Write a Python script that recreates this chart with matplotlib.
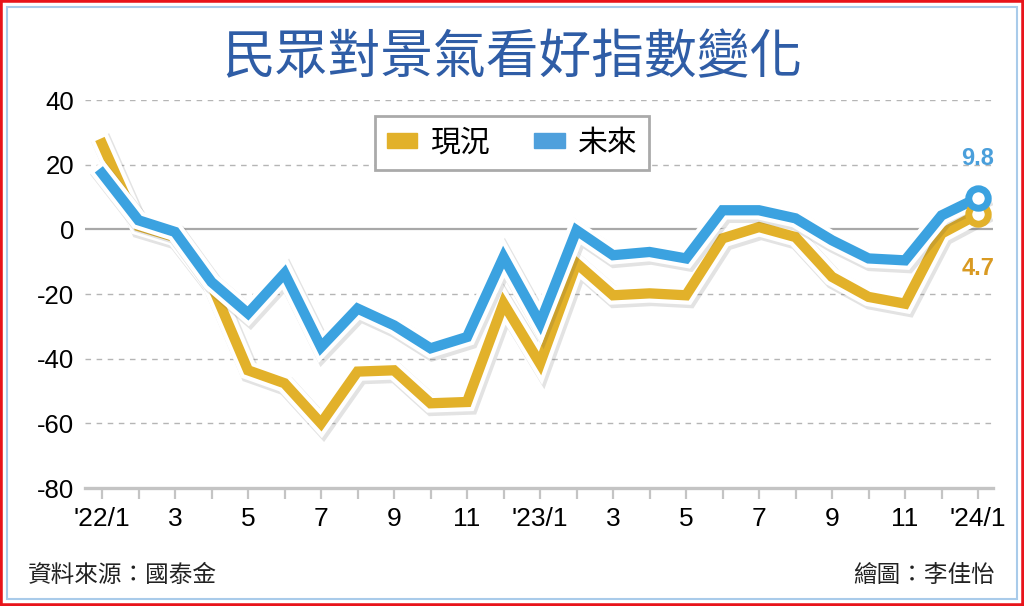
import matplotlib
matplotlib.use("Agg")
import matplotlib.pyplot as plt
import matplotlib.patheffects as pe
from matplotlib.patches import Rectangle, Patch

# 2022/1 .. 2024/1, monthly
months = list(range(25))
current = [26.5, 1.0, -2.4, -17.0, -43.6, -47.6, -60.0, -44.0, -43.6, -53.8, -53.4, -22.9,
           -41.5, -10.5, -20.4, -19.8, -20.4, -2.8, 0.7, -2.4, -14.7, -20.9, -23.0, -1.3, 4.7]
future = [17.3, 2.8, -0.8, -16.3, -26.0, -13.6, -36.4, -24.5, -29.7, -36.8, -33.3, -8.6,
          -29.0, -0.3, -8.0, -7.0, -9.0, 5.9, 5.9, 3.4, -3.4, -9.0, -9.6, 4.3, 9.8]
tick_pos = list(range(0, 25, 2))
tick_labels = ["'22/1", "3", "5", "7", "9", "11", "'23/1", "3", "5", "7", "9", "11", "'24/1"]
y_ticks = [40, 20, 0, -20, -40, -60, -80]

title = "民眾對景氣看好指數變化"
series_names = ["現況", "未來"]
source = "資料來源：國泰金"
credit = "繪圖：李佳怡"

c_yellow = "#E2B12A"
c_blue = "#3BA2E0"
cjk = ["Noto Sans CJK TC", "DejaVu Sans"]
num_font = ["Liberation Sans", "DejaVu Sans"]
narrow_font = ["Liberation Sans Narrow", "Liberation Sans", "DejaVu Sans"]

fig = plt.figure(figsize=(10.24, 6.06), dpi=100)
ax = fig.add_axes([85 / 1024, 1 - 488 / 606, (993 - 85) / 1024, (488 - 100) / 606])

ax.set_xlim(-0.466, 24.41)
ax.set_ylim(-80, 40)

for y in y_ticks:
    if y == 0:
        ax.axhline(y, color="#A8A8A8", lw=1.6, zorder=1)
    elif y != -80:
        ax.axhline(y, color="#B5B5B5", lw=1.0, dashes=(4, 4), zorder=1)

for sp in ["top", "right", "left"]:
    ax.spines[sp].set_visible(False)
ax.spines["bottom"].set_color("#C4C4C4")
ax.spines["bottom"].set_linewidth(2.4)

ax.set_yticks(y_ticks)
ax.set_yticklabels([str(v) for v in y_ticks], family=num_font, fontsize=18.5)
ax.tick_params(axis="y", length=0, pad=8)
ax.set_xticks(months, minor=True)
ax.set_xticks(tick_pos)
ax.set_xticklabels(tick_labels, family=narrow_font, fontsize=19)
ax.tick_params(axis="x", which="both", length=8, width=1.6, color="#C4C4C4", pad=6)

def effects(lw):
    return [pe.SimpleLineShadow(offset=(1.5, -2), shadow_color="#444444", alpha=0.15,
                                linewidth=lw + 7),
            pe.Stroke(linewidth=lw + 6, foreground="white"),
            pe.Normal()]

lw = 7.4
ax.plot(months, current, color=c_yellow, lw=lw, solid_joinstyle="miter",
        path_effects=effects(lw), zorder=3)
ax.plot(months, future, color=c_blue, lw=lw, solid_joinstyle="miter",
        path_effects=effects(lw), zorder=4)

ax.plot(months[-1], current[-1], "o", ms=14, mfc="white", mec=c_yellow, mew=5, zorder=5)
ax.plot(months[-1], future[-1], "o", ms=14, mfc="white", mec=c_blue, mew=5, zorder=6)

ax.annotate(f"{future[-1]:.1f}", (months[-1], future[-1]), xytext=(0, 28),
            textcoords="offset points", ha="center", va="center", color="#4A9FDB",
            fontsize=17, fontweight="bold", family=num_font, zorder=7)
ax.annotate(f"{current[-1]:.1f}", (months[-1], current[-1]), xytext=(0, -39),
            textcoords="offset points", ha="center", va="center", color="#D99A22",
            fontsize=17, fontweight="bold", family=num_font, zorder=7)

handles = [Patch(color=c_yellow), Patch(color="#4FA0DC")]
leg = ax.legend(handles, series_names, ncol=2, loc="center",
                bbox_to_anchor=(512 / 1024, 1 - 143 / 606), bbox_transform=fig.transFigure,
                prop={"family": cjk, "size": 21.5}, frameon=True, fancybox=False,
                handlelength=1.03, handleheight=0.4, handletextpad=0.42, columnspacing=1.5,
                borderpad=0.4, borderaxespad=0, edgecolor="#AAAAAA", framealpha=1)
leg.get_frame().set_linewidth(2)
leg.set_zorder(8)

fig.text(0.5, 1 - 58 / 606, title, ha="center", va="center", fontsize=38,
         color="#2F5DA6", family=cjk, fontweight="normal")
fig.text(28 / 1024, 1 - 575 / 606, source, ha="left", va="center", fontsize=17,
         color="#222222", family=cjk)
fig.text(995 / 1024, 1 - 575 / 606, credit, ha="right", va="center", fontsize=17,
         color="#222222", family=cjk)

fig.patches.append(Rectangle((0, 0), 1, 1, transform=fig.transFigure, fill=False,
                             edgecolor="#E8141B", lw=4, zorder=10))
fig.patches.append(Rectangle((7 / 1024, 7 / 606), 1 - 14 / 1024, 1 - 14 / 606,
                             transform=fig.transFigure, fill=False,
                             edgecolor="#A9CBEA", lw=1.5, zorder=10))

fig.savefig("out.png", dpi=100)
